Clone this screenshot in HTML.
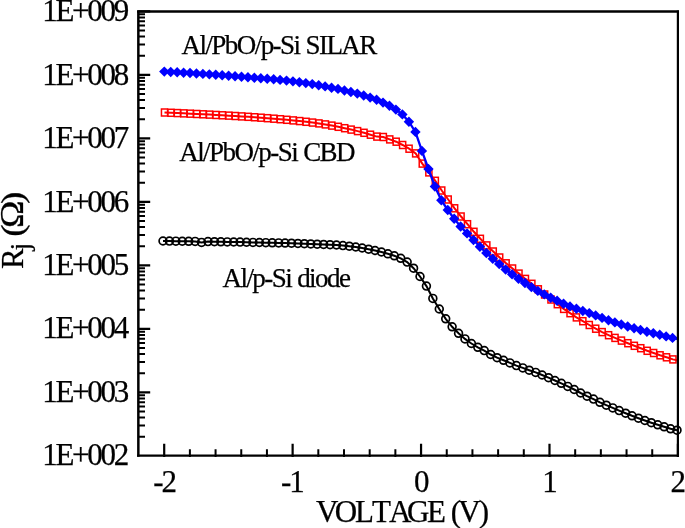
<!DOCTYPE html>
<html lang="en"><head><meta charset="utf-8"><title>Rj vs Voltage</title>
<style>html,body{margin:0;padding:0;background:#fff}body{width:685px;height:528px;overflow:hidden}svg{display:block}text{font-kerning:none;stroke:#000;stroke-width:0.25px;font-family:"Liberation Serif","Times New Roman",serif;fill:#000}</style></head><body>
<svg width="685" height="528" viewBox="0 0 685 528">
<rect width="685" height="528" fill="#fff"/>
<defs><clipPath id="pc"><rect x="138.35" y="11.5" width="540.15" height="444.2"/></clipPath></defs>
<g fill="none" stroke="#000"><path d="M163 241 L169.43 241.08 L175.85 241.16 L182.28 241.24 L188.7 241.32 L195.12 241.4 L201.55 242.4 L207.97 241.6 L214.4 241.7 L220.82 241.8 L227.25 241.9 L233.68 242 L240.1 242.1 L246.52 242.24 L252.95 242.38 L259.38 242.51 L265.8 242.65 L272.23 242.79 L278.65 242.92 L285.07 243.06 L291.5 243.2 L297.92 243.45 L304.35 243.7 L310.77 243.95 L317.2 244.2 L323.62 244.47 L330.05 244.73 L336.48 245 L342.9 245.6 L349.32 246.2 L355.75 247 L362.17 248 L368.6 249.2 L375.02 250.5 L381.45 252 L387.88 253.8 L394.3 255.8 L400.73 258.3 L407.15 262.1 L413.57 268.2 L420 276.5 L426.43 286.1 L432.85 298.4 L439.27 309 L445.7 318.8 L452.12 326.8 L458.55 333.3 L464.97 338.9 L471.4 343.5 L477.82 347.3 L484.25 350.6 L490.68 354.5 L497.1 357.7 L503.52 360.3 L509.95 362.9 L516.38 365.6 L522.8 367.9 L529.22 370.2 L535.65 372.4 L542.08 375 L548.5 377.7 L554.92 380.5 L561.35 383.3 L567.77 386.4 L574.2 389.5 L580.62 393 L587.05 396.2 L593.47 399.1 L599.9 402.3 L606.33 405.2 L612.75 407.9 L619.17 410.6 L625.6 413.2 L632.02 415.8 L638.45 418.2 L644.88 420.5 L651.3 422.7 L657.72 424.8 L664.15 426.8 L670.58 428.8 L677 430.2" stroke-width="2"/><g stroke-width="1.7"><circle cx="163" cy="241" r="3.9"/><circle cx="169.43" cy="241.08" r="3.9"/><circle cx="175.85" cy="241.16" r="3.9"/><circle cx="182.28" cy="241.24" r="3.9"/><circle cx="188.7" cy="241.32" r="3.9"/><circle cx="195.12" cy="241.4" r="3.9"/><circle cx="201.55" cy="242.4" r="3.9"/><circle cx="207.97" cy="241.6" r="3.9"/><circle cx="214.4" cy="241.7" r="3.9"/><circle cx="220.82" cy="241.8" r="3.9"/><circle cx="227.25" cy="241.9" r="3.9"/><circle cx="233.68" cy="242" r="3.9"/><circle cx="240.1" cy="242.1" r="3.9"/><circle cx="246.52" cy="242.24" r="3.9"/><circle cx="252.95" cy="242.38" r="3.9"/><circle cx="259.38" cy="242.51" r="3.9"/><circle cx="265.8" cy="242.65" r="3.9"/><circle cx="272.23" cy="242.79" r="3.9"/><circle cx="278.65" cy="242.92" r="3.9"/><circle cx="285.07" cy="243.06" r="3.9"/><circle cx="291.5" cy="243.2" r="3.9"/><circle cx="297.92" cy="243.45" r="3.9"/><circle cx="304.35" cy="243.7" r="3.9"/><circle cx="310.77" cy="243.95" r="3.9"/><circle cx="317.2" cy="244.2" r="3.9"/><circle cx="323.62" cy="244.47" r="3.9"/><circle cx="330.05" cy="244.73" r="3.9"/><circle cx="336.48" cy="245" r="3.9"/><circle cx="342.9" cy="245.6" r="3.9"/><circle cx="349.32" cy="246.2" r="3.9"/><circle cx="355.75" cy="247" r="3.9"/><circle cx="362.17" cy="248" r="3.9"/><circle cx="368.6" cy="249.2" r="3.9"/><circle cx="375.02" cy="250.5" r="3.9"/><circle cx="381.45" cy="252" r="3.9"/><circle cx="387.88" cy="253.8" r="3.9"/><circle cx="394.3" cy="255.8" r="3.9"/><circle cx="400.73" cy="258.3" r="3.9"/><circle cx="407.15" cy="262.1" r="3.9"/><circle cx="413.57" cy="268.2" r="3.9"/><circle cx="420" cy="276.5" r="3.9"/><circle cx="426.43" cy="286.1" r="3.9"/><circle cx="432.85" cy="298.4" r="3.9"/><circle cx="439.27" cy="309" r="3.9"/><circle cx="445.7" cy="318.8" r="3.9"/><circle cx="452.12" cy="326.8" r="3.9"/><circle cx="458.55" cy="333.3" r="3.9"/><circle cx="464.97" cy="338.9" r="3.9"/><circle cx="471.4" cy="343.5" r="3.9"/><circle cx="477.82" cy="347.3" r="3.9"/><circle cx="484.25" cy="350.6" r="3.9"/><circle cx="490.68" cy="354.5" r="3.9"/><circle cx="497.1" cy="357.7" r="3.9"/><circle cx="503.52" cy="360.3" r="3.9"/><circle cx="509.95" cy="362.9" r="3.9"/><circle cx="516.38" cy="365.6" r="3.9"/><circle cx="522.8" cy="367.9" r="3.9"/><circle cx="529.22" cy="370.2" r="3.9"/><circle cx="535.65" cy="372.4" r="3.9"/><circle cx="542.08" cy="375" r="3.9"/><circle cx="548.5" cy="377.7" r="3.9"/><circle cx="554.92" cy="380.5" r="3.9"/><circle cx="561.35" cy="383.3" r="3.9"/><circle cx="567.77" cy="386.4" r="3.9"/><circle cx="574.2" cy="389.5" r="3.9"/><circle cx="580.62" cy="393" r="3.9"/><circle cx="587.05" cy="396.2" r="3.9"/><circle cx="593.47" cy="399.1" r="3.9"/><circle cx="599.9" cy="402.3" r="3.9"/><circle cx="606.33" cy="405.2" r="3.9"/><circle cx="612.75" cy="407.9" r="3.9"/><circle cx="619.17" cy="410.6" r="3.9"/><circle cx="625.6" cy="413.2" r="3.9"/><circle cx="632.02" cy="415.8" r="3.9"/><circle cx="638.45" cy="418.2" r="3.9"/><circle cx="644.88" cy="420.5" r="3.9"/><circle cx="651.3" cy="422.7" r="3.9"/><circle cx="657.72" cy="424.8" r="3.9"/><circle cx="664.15" cy="426.8" r="3.9"/><circle cx="670.58" cy="428.8" r="3.9"/><circle cx="677" cy="430.2" r="3.9"/></g></g>
<g fill="none" stroke="#f00" clip-path="url(#pc)"><path d="M164.5 112.5 L170.94 112.78 L177.37 113.07 L183.81 113.36 L190.24 113.67 L196.68 113.98 L203.12 114.3 L209.55 114.62 L215.99 114.95 L222.42 115.29 L228.86 115.64 L235.3 116.01 L241.73 116.4 L248.17 116.81 L254.6 117.25 L261.04 117.7 L267.48 118.19 L273.91 118.69 L280.35 119.23 L286.78 119.8 L293.22 120.41 L299.66 121.07 L306.09 121.79 L312.53 122.56 L318.96 123.4 L325.4 124.4 L331.84 125.6 L338.27 126.8 L344.71 128.2 L351.14 129.6 L357.58 131.1 L364.02 132.8 L370.45 134.7 L376.89 136.6 L383.32 137 L389.76 139.4 L396.2 141.7 L402.63 145 L409.07 148.7 L415.67 153.4 L422.27 163.6 L428.88 172.4 L435.31 180.8 L441.75 190.5 L448.18 199.5 L454.62 208.3 L461.06 216.5 L467.49 224.2 L473.93 231.8 L480.36 238.8 L486.8 245.4 L493.24 251.5 L499.67 257.5 L506.11 263.3 L512.54 268.5 L518.98 273.6 L525.42 278.9 L531.85 283.8 L538.29 289.3 L544.64 294.5 L550.99 299.5 L557.35 304.2 L563.7 308.9 L570.05 313.2 L576.4 317.4 L582.84 321.2 L589.28 325 L595.71 328.7 L602.15 332.1 L608.58 335.2 L615.02 337.9 L621.46 340.6 L627.89 343.2 L634.33 345.8 L640.76 348.2 L647.2 350.8 L653.64 353 L660.07 355.3 L666.51 357.3 L672.94 359.4 L679.38 360.8" stroke-width="2"/><g stroke-width="1.5"><rect x="161.45" y="109" width="6.1" height="7"/><rect x="167.89" y="109.28" width="6.1" height="7"/><rect x="174.32" y="109.57" width="6.1" height="7"/><rect x="180.76" y="109.86" width="6.1" height="7"/><rect x="187.19" y="110.17" width="6.1" height="7"/><rect x="193.63" y="110.48" width="6.1" height="7"/><rect x="200.07" y="110.8" width="6.1" height="7"/><rect x="206.5" y="111.12" width="6.1" height="7"/><rect x="212.94" y="111.45" width="6.1" height="7"/><rect x="219.37" y="111.79" width="6.1" height="7"/><rect x="225.81" y="112.14" width="6.1" height="7"/><rect x="232.25" y="112.51" width="6.1" height="7"/><rect x="238.68" y="112.9" width="6.1" height="7"/><rect x="245.12" y="113.31" width="6.1" height="7"/><rect x="251.55" y="113.75" width="6.1" height="7"/><rect x="257.99" y="114.2" width="6.1" height="7"/><rect x="264.43" y="114.69" width="6.1" height="7"/><rect x="270.86" y="115.19" width="6.1" height="7"/><rect x="277.3" y="115.73" width="6.1" height="7"/><rect x="283.73" y="116.3" width="6.1" height="7"/><rect x="290.17" y="116.91" width="6.1" height="7"/><rect x="296.61" y="117.57" width="6.1" height="7"/><rect x="303.04" y="118.29" width="6.1" height="7"/><rect x="309.48" y="119.06" width="6.1" height="7"/><rect x="315.91" y="119.9" width="6.1" height="7"/><rect x="322.35" y="120.9" width="6.1" height="7"/><rect x="328.79" y="122.1" width="6.1" height="7"/><rect x="335.22" y="123.3" width="6.1" height="7"/><rect x="341.66" y="124.7" width="6.1" height="7"/><rect x="348.09" y="126.1" width="6.1" height="7"/><rect x="354.53" y="127.6" width="6.1" height="7"/><rect x="360.97" y="129.3" width="6.1" height="7"/><rect x="367.4" y="131.2" width="6.1" height="7"/><rect x="373.84" y="133.1" width="6.1" height="7"/><rect x="380.27" y="133.5" width="6.1" height="7"/><rect x="386.71" y="135.9" width="6.1" height="7"/><rect x="393.15" y="138.2" width="6.1" height="7"/><rect x="399.58" y="141.5" width="6.1" height="7"/><rect x="406.02" y="145.2" width="6.1" height="7"/><rect x="412.62" y="149.9" width="6.1" height="7"/><rect x="419.22" y="160.1" width="6.1" height="7"/><rect x="425.83" y="168.9" width="6.1" height="7"/><rect x="432.26" y="177.3" width="6.1" height="7"/><rect x="438.7" y="187" width="6.1" height="7"/><rect x="445.13" y="196" width="6.1" height="7"/><rect x="451.57" y="204.8" width="6.1" height="7"/><rect x="458.01" y="213" width="6.1" height="7"/><rect x="464.44" y="220.7" width="6.1" height="7"/><rect x="470.88" y="228.3" width="6.1" height="7"/><rect x="477.31" y="235.3" width="6.1" height="7"/><rect x="483.75" y="241.9" width="6.1" height="7"/><rect x="490.19" y="248" width="6.1" height="7"/><rect x="496.62" y="254" width="6.1" height="7"/><rect x="503.06" y="259.8" width="6.1" height="7"/><rect x="509.49" y="265" width="6.1" height="7"/><rect x="515.93" y="270.1" width="6.1" height="7"/><rect x="522.37" y="275.4" width="6.1" height="7"/><rect x="528.8" y="280.3" width="6.1" height="7"/><rect x="535.24" y="285.8" width="6.1" height="7"/><rect x="541.59" y="291" width="6.1" height="7"/><rect x="547.94" y="296" width="6.1" height="7"/><rect x="554.3" y="300.7" width="6.1" height="7"/><rect x="560.65" y="305.4" width="6.1" height="7"/><rect x="567" y="309.7" width="6.1" height="7"/><rect x="573.35" y="313.9" width="6.1" height="7"/><rect x="579.79" y="317.7" width="6.1" height="7"/><rect x="586.23" y="321.5" width="6.1" height="7"/><rect x="592.66" y="325.2" width="6.1" height="7"/><rect x="599.1" y="328.6" width="6.1" height="7"/><rect x="605.53" y="331.7" width="6.1" height="7"/><rect x="611.97" y="334.4" width="6.1" height="7"/><rect x="618.41" y="337.1" width="6.1" height="7"/><rect x="624.84" y="339.7" width="6.1" height="7"/><rect x="631.28" y="342.3" width="6.1" height="7"/><rect x="637.71" y="344.7" width="6.1" height="7"/><rect x="644.15" y="347.3" width="6.1" height="7"/><rect x="650.59" y="349.5" width="6.1" height="7"/><rect x="657.02" y="351.8" width="6.1" height="7"/><rect x="663.46" y="353.8" width="6.1" height="7"/><rect x="669.89" y="355.9" width="6.1" height="7"/></g></g>
<g fill="#00f" stroke="#00f" clip-path="url(#pc)"><path d="M164.3 71.6 L170.73 71.94 L177.17 72.3 L183.6 72.68 L190.03 73.07 L196.47 73.48 L202.9 73.9 L209.33 74.35 L215.76 74.82 L222.2 75.32 L228.63 75.82 L235.06 76.32 L241.5 76.8 L247.93 77.26 L254.36 77.71 L260.8 78.2 L267.23 78.72 L273.66 79.28 L280.09 79.9 L286.53 80.59 L292.96 81.36 L299.39 82.2 L305.83 83.12 L312.26 84.12 L318.69 85.2 L325.12 86.4 L331.56 87.7 L337.99 88.9 L344.42 90.5 L350.86 92 L357.29 93.6 L363.72 95.5 L370.16 97.6 L376.59 99.8 L383.02 102.6 L389.46 105.7 L395.89 109.6 L402.4 114.4 L408.91 121.7 L415.43 131.9 L421.94 150.9 L428.45 169 L434.89 186.5 L441.32 200.2 L447.75 210 L454.19 218.8 L460.62 226.5 L467.05 233.4 L473.48 240 L479.92 246.7 L486.35 253 L492.78 258.8 L499.22 264.1 L505.65 269.5 L512.08 274.3 L518.51 278.8 L524.95 283 L531.38 287.1 L537.81 290.9 L544.25 294.4 L550.68 297.7 L557.11 300.8 L563.55 303.8 L569.98 306.4 L576.41 308.8 L582.84 311 L589.25 313.1 L595.66 315.4 L602.06 317.9 L608.47 320.2 L614.88 322.4 L621.28 324.5 L627.69 326.5 L634.1 328.3 L640.5 330 L646.91 331.8 L653.31 333.3 L659.72 334.8 L666.13 336.4 L672.53 337.9 L678.94 339.3" stroke-width="2.3" fill="none"/><g stroke="none"><path d="M159.1 71.6l5.2 -5.2l5.2 5.2l-5.2 5.2z"/><path d="M165.53 71.94l5.2 -5.2l5.2 5.2l-5.2 5.2z"/><path d="M171.97 72.3l5.2 -5.2l5.2 5.2l-5.2 5.2z"/><path d="M178.4 72.68l5.2 -5.2l5.2 5.2l-5.2 5.2z"/><path d="M184.83 73.07l5.2 -5.2l5.2 5.2l-5.2 5.2z"/><path d="M191.27 73.48l5.2 -5.2l5.2 5.2l-5.2 5.2z"/><path d="M197.7 73.9l5.2 -5.2l5.2 5.2l-5.2 5.2z"/><path d="M204.13 74.35l5.2 -5.2l5.2 5.2l-5.2 5.2z"/><path d="M210.56 74.82l5.2 -5.2l5.2 5.2l-5.2 5.2z"/><path d="M217 75.32l5.2 -5.2l5.2 5.2l-5.2 5.2z"/><path d="M223.43 75.82l5.2 -5.2l5.2 5.2l-5.2 5.2z"/><path d="M229.86 76.32l5.2 -5.2l5.2 5.2l-5.2 5.2z"/><path d="M236.3 76.8l5.2 -5.2l5.2 5.2l-5.2 5.2z"/><path d="M242.73 77.26l5.2 -5.2l5.2 5.2l-5.2 5.2z"/><path d="M249.16 77.71l5.2 -5.2l5.2 5.2l-5.2 5.2z"/><path d="M255.6 78.2l5.2 -5.2l5.2 5.2l-5.2 5.2z"/><path d="M262.03 78.72l5.2 -5.2l5.2 5.2l-5.2 5.2z"/><path d="M268.46 79.28l5.2 -5.2l5.2 5.2l-5.2 5.2z"/><path d="M274.89 79.9l5.2 -5.2l5.2 5.2l-5.2 5.2z"/><path d="M281.33 80.59l5.2 -5.2l5.2 5.2l-5.2 5.2z"/><path d="M287.76 81.36l5.2 -5.2l5.2 5.2l-5.2 5.2z"/><path d="M294.19 82.2l5.2 -5.2l5.2 5.2l-5.2 5.2z"/><path d="M300.63 83.12l5.2 -5.2l5.2 5.2l-5.2 5.2z"/><path d="M307.06 84.12l5.2 -5.2l5.2 5.2l-5.2 5.2z"/><path d="M313.49 85.2l5.2 -5.2l5.2 5.2l-5.2 5.2z"/><path d="M319.93 86.4l5.2 -5.2l5.2 5.2l-5.2 5.2z"/><path d="M326.36 87.7l5.2 -5.2l5.2 5.2l-5.2 5.2z"/><path d="M332.79 88.9l5.2 -5.2l5.2 5.2l-5.2 5.2z"/><path d="M339.22 90.5l5.2 -5.2l5.2 5.2l-5.2 5.2z"/><path d="M345.66 92l5.2 -5.2l5.2 5.2l-5.2 5.2z"/><path d="M352.09 93.6l5.2 -5.2l5.2 5.2l-5.2 5.2z"/><path d="M358.52 95.5l5.2 -5.2l5.2 5.2l-5.2 5.2z"/><path d="M364.96 97.6l5.2 -5.2l5.2 5.2l-5.2 5.2z"/><path d="M371.39 99.8l5.2 -5.2l5.2 5.2l-5.2 5.2z"/><path d="M377.82 102.6l5.2 -5.2l5.2 5.2l-5.2 5.2z"/><path d="M384.26 105.7l5.2 -5.2l5.2 5.2l-5.2 5.2z"/><path d="M390.69 109.6l5.2 -5.2l5.2 5.2l-5.2 5.2z"/><path d="M397.2 114.4l5.2 -5.2l5.2 5.2l-5.2 5.2z"/><path d="M403.71 121.7l5.2 -5.2l5.2 5.2l-5.2 5.2z"/><path d="M410.23 131.9l5.2 -5.2l5.2 5.2l-5.2 5.2z"/><path d="M416.74 150.9l5.2 -5.2l5.2 5.2l-5.2 5.2z"/><path d="M423.25 169l5.2 -5.2l5.2 5.2l-5.2 5.2z"/><path d="M429.69 186.5l5.2 -5.2l5.2 5.2l-5.2 5.2z"/><path d="M436.12 200.2l5.2 -5.2l5.2 5.2l-5.2 5.2z"/><path d="M442.55 210l5.2 -5.2l5.2 5.2l-5.2 5.2z"/><path d="M448.99 218.8l5.2 -5.2l5.2 5.2l-5.2 5.2z"/><path d="M455.42 226.5l5.2 -5.2l5.2 5.2l-5.2 5.2z"/><path d="M461.85 233.4l5.2 -5.2l5.2 5.2l-5.2 5.2z"/><path d="M468.28 240l5.2 -5.2l5.2 5.2l-5.2 5.2z"/><path d="M474.72 246.7l5.2 -5.2l5.2 5.2l-5.2 5.2z"/><path d="M481.15 253l5.2 -5.2l5.2 5.2l-5.2 5.2z"/><path d="M487.58 258.8l5.2 -5.2l5.2 5.2l-5.2 5.2z"/><path d="M494.02 264.1l5.2 -5.2l5.2 5.2l-5.2 5.2z"/><path d="M500.45 269.5l5.2 -5.2l5.2 5.2l-5.2 5.2z"/><path d="M506.88 274.3l5.2 -5.2l5.2 5.2l-5.2 5.2z"/><path d="M513.31 278.8l5.2 -5.2l5.2 5.2l-5.2 5.2z"/><path d="M519.75 283l5.2 -5.2l5.2 5.2l-5.2 5.2z"/><path d="M526.18 287.1l5.2 -5.2l5.2 5.2l-5.2 5.2z"/><path d="M532.61 290.9l5.2 -5.2l5.2 5.2l-5.2 5.2z"/><path d="M539.05 294.4l5.2 -5.2l5.2 5.2l-5.2 5.2z"/><path d="M545.48 297.7l5.2 -5.2l5.2 5.2l-5.2 5.2z"/><path d="M551.91 300.8l5.2 -5.2l5.2 5.2l-5.2 5.2z"/><path d="M558.35 303.8l5.2 -5.2l5.2 5.2l-5.2 5.2z"/><path d="M564.78 306.4l5.2 -5.2l5.2 5.2l-5.2 5.2z"/><path d="M571.21 308.8l5.2 -5.2l5.2 5.2l-5.2 5.2z"/><path d="M577.64 311l5.2 -5.2l5.2 5.2l-5.2 5.2z"/><path d="M584.05 313.1l5.2 -5.2l5.2 5.2l-5.2 5.2z"/><path d="M590.46 315.4l5.2 -5.2l5.2 5.2l-5.2 5.2z"/><path d="M596.86 317.9l5.2 -5.2l5.2 5.2l-5.2 5.2z"/><path d="M603.27 320.2l5.2 -5.2l5.2 5.2l-5.2 5.2z"/><path d="M609.68 322.4l5.2 -5.2l5.2 5.2l-5.2 5.2z"/><path d="M616.08 324.5l5.2 -5.2l5.2 5.2l-5.2 5.2z"/><path d="M622.49 326.5l5.2 -5.2l5.2 5.2l-5.2 5.2z"/><path d="M628.9 328.3l5.2 -5.2l5.2 5.2l-5.2 5.2z"/><path d="M635.3 330l5.2 -5.2l5.2 5.2l-5.2 5.2z"/><path d="M641.71 331.8l5.2 -5.2l5.2 5.2l-5.2 5.2z"/><path d="M648.11 333.3l5.2 -5.2l5.2 5.2l-5.2 5.2z"/><path d="M654.52 334.8l5.2 -5.2l5.2 5.2l-5.2 5.2z"/><path d="M660.93 336.4l5.2 -5.2l5.2 5.2l-5.2 5.2z"/><path d="M667.33 337.9l5.2 -5.2l5.2 5.2l-5.2 5.2z"/></g></g>
<g stroke="#000" fill="none" stroke-linecap="butt"><path d="M137.1 11.5H679" stroke-width="2.35"/><path d="M137.1 455.7H679" stroke-width="2.3"/><path d="M138.35 10.45V456.85" stroke-width="2.5"/><path d="M677.9 10.45V456.85" stroke-width="2.2"/><path d="M138.35 392.3H150.2M138.35 328.8H150.2M138.35 265.3H150.2M138.35 201.8H150.2M138.35 138.3H150.2M138.35 74.8H150.2M138.35 11.3H150.2" stroke-width="2.2"/><path d="M138.35 436.68H145M138.35 425.5H145M138.35 417.57H145M138.35 411.42H145M138.35 406.39H145M138.35 402.14H145M138.35 398.45H145M138.35 395.21H145M138.35 373.18H145M138.35 362H145M138.35 354.07H145M138.35 347.92H145M138.35 342.89H145M138.35 338.64H145M138.35 334.95H145M138.35 331.71H145M138.35 309.68H145M138.35 298.5H145M138.35 290.57H145M138.35 284.42H145M138.35 279.39H145M138.35 275.14H145M138.35 271.45H145M138.35 268.21H145M138.35 246.18H145M138.35 235H145M138.35 227.07H145M138.35 220.92H145M138.35 215.89H145M138.35 211.64H145M138.35 207.95H145M138.35 204.71H145M138.35 182.68H145M138.35 171.5H145M138.35 163.57H145M138.35 157.42H145M138.35 152.39H145M138.35 148.14H145M138.35 144.45H145M138.35 141.21H145M138.35 119.18H145M138.35 108H145M138.35 100.07H145M138.35 93.92H145M138.35 88.89H145M138.35 84.64H145M138.35 80.95H145M138.35 77.71H145M138.35 55.68H145M138.35 44.5H145M138.35 36.57H145M138.35 30.42H145M138.35 25.39H145M138.35 21.14H145M138.35 17.45H145M138.35 14.21H145" stroke-width="2"/><path d="M164.2 457.1V443.7M292.63 457.1V443.7M421.06 457.1V443.7M549.49 457.1V443.7M677.92 457.1V443.7" stroke-width="2.2"/><path d="M189.89 457V449.3M215.57 457V449.3M241.26 457V449.3M266.94 457V449.3M318.32 457V449.3M344 457V449.3M369.69 457V449.3M395.37 457V449.3M446.75 457V449.3M472.43 457V449.3M498.12 457V449.3M523.8 457V449.3M575.18 457V449.3M600.86 457V449.3M626.55 457V449.3M652.23 457V449.3" stroke-width="2"/></g>
<g font-size="31" letter-spacing="-2.3"><text x="126.9" y="465" text-anchor="end">1E+002</text><text x="126.9" y="402" text-anchor="end">1E+003</text><text x="126.9" y="338" text-anchor="end">1E+004</text><text x="126.9" y="275" text-anchor="end">1E+005</text><text x="126.9" y="212" text-anchor="end">1E+006</text><text x="126.9" y="148" text-anchor="end">1E+007</text><text x="126.9" y="85" text-anchor="end">1E+008</text><text x="126.9" y="21" text-anchor="end">1E+009</text><text y="522.3" x="316 334.8 354.9 371.9 388.9 407.1 427 445 450.7 458.3 478.8" letter-spacing="0">VOLTAGE (V)</text><g transform="translate(23.1 268.9) rotate(-90)"><text>R<tspan font-size="27.5" dy="6.3">j</tspan></text><text transform="translate(34.4 0) scale(1.2 1) translate(-1.8 0)">(</text><text transform="translate(43.1 0) scale(1.19 1.07) translate(-1.8 0)">Ω</text><text transform="translate(67.4 0) scale(1.2 1) translate(-2 0)">)</text></g></g><g font-size="31"><text y="491.7" x="153.2 161.6">-2</text><text y="491.7" x="281 289.2">-1</text><text y="491.7" x="414.01">0</text><text y="491.7" x="542.24">1</text><text y="491.7" x="670.57">2</text></g><g font-size="27" letter-spacing="-1.55" word-spacing="0.8"><text x="181.5" y="54">Al/PbO/p-Si SILAR</text><text x="179.2" y="161">Al/PbO/p-Si CBD</text><text x="222.5" y="287">Al/p-Si diode</text></g>
</svg></body></html>
